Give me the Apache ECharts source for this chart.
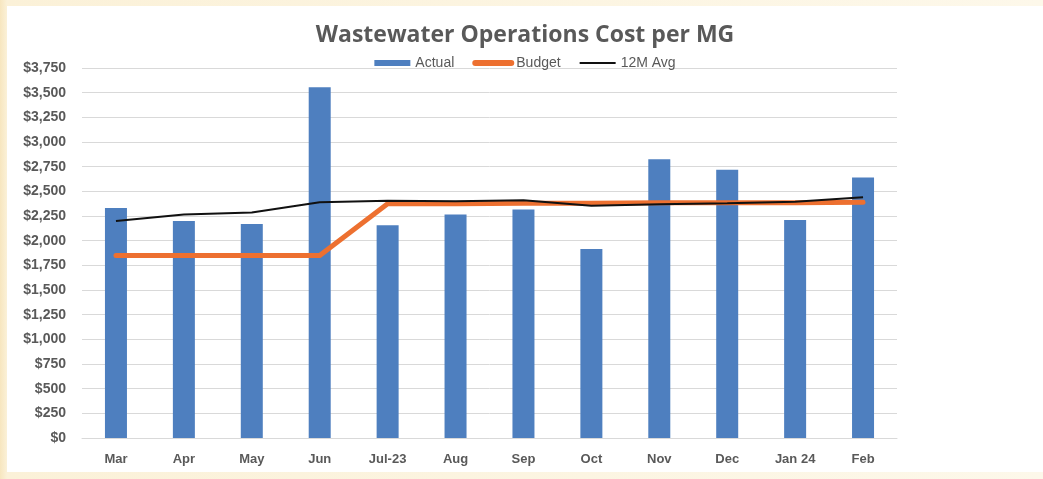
<!DOCTYPE html>
<html>
<head>
<meta charset="utf-8">
<script src="https://cdn.jsdelivr.net/npm/echarts@6/dist/echarts.min.js"></script>
<style>
  html, body { margin: 0; padding: 0; width: 1043px; height: 479px; overflow: hidden;
    background: linear-gradient(90deg, #f7e6bf 0px, #fbf1d8 7px, #fdf8ea 100%); }
  #chart { position: absolute; left: 7px; top: 6px; width: 1036px; height: 466px; background: #ffffff; }
</style>
</head>
<body>
<div id="chart"></div>
<script>
const categories = ['Mar', 'Apr', 'May', 'Jun', 'Jul-23', 'Aug', 'Sep', 'Oct', 'Nov', 'Dec', 'Jan 24', 'Feb'];
const actual = [2330, 2200, 2170, 3555, 2155, 2265, 2315, 1915, 2825, 2720, 2210, 2640];
const budget = [1850, 1850, 1850, 1850, 2375, 2375, 2380, 2380, 2385, 2385, 2385, 2390];
const avg12 = [2200, 2265, 2285, 2390, 2405, 2400, 2410, 2355, 2370, 2380, 2395, 2440];
const yTicks = { min: 0, max: 3750, interval: 250 };

const chart = echarts.init(document.getElementById('chart'));
const txt = '#595959';
const font = "'Liberation Sans', sans-serif";
chart.setOption({
  animation: false,
  title: {
    text: 'Wastewater Operations Cost per MG',
    left: 'center', top: 13,
    textStyle: { fontFamily: "'Open Sans', 'Liberation Sans', sans-serif", fontWeight: 'bold', fontSize: 23, color: txt }
  },
  legend: {
    top: 45, left: 'center',
    itemWidth: 36, itemHeight: 6, itemGap: 18,
    textStyle: { fontFamily: font, fontSize: 14, color: txt },
    data: [
      { name: 'Actual', icon: 'rect' },
      { name: 'Budget', itemStyle: { opacity: 0 }, lineStyle: { width: 6, cap: 'round' } },
      { name: '12M Avg', itemStyle: { opacity: 0 }, lineStyle: { width: 2 } }
    ]
  },
  grid: { left: 75, right: 146, top: 62, bottom: 34 },
  xAxis: {
    type: 'category', data: categories,
    axisLine: { lineStyle: { color: '#d9d9d9', width: 1 } },
    axisTick: { show: false },
    axisLabel: { fontFamily: font, fontWeight: 'bold', fontSize: 13, color: txt, margin: 15 }
  },
  yAxis: {
    type: 'value', min: yTicks.min, max: yTicks.max, interval: yTicks.interval,
    axisLine: { show: false }, axisTick: { show: false },
    splitLine: { lineStyle: { color: '#d9d9d9', width: 1 } },
    axisLabel: {
      fontFamily: font, fontWeight: 'bold', fontSize: 14, color: txt, margin: 16,
      formatter: v => '$' + v.toLocaleString('en-US')
    }
  },
  series: [
    { name: 'Actual', type: 'bar', data: actual, barWidth: 22,
      itemStyle: { color: '#4e7fbf' } },
    { name: 'Budget', type: 'line', data: budget, symbol: 'none',
      lineStyle: { color: '#ed7030', width: 5, cap: 'round', join: 'round' },
      itemStyle: { color: '#ed7030' } },
    { name: '12M Avg', type: 'line', data: avg12, symbol: 'none',
      lineStyle: { color: '#111111', width: 2 },
      itemStyle: { color: '#111111' } }
  ]
});
</script>
</body>
</html>
